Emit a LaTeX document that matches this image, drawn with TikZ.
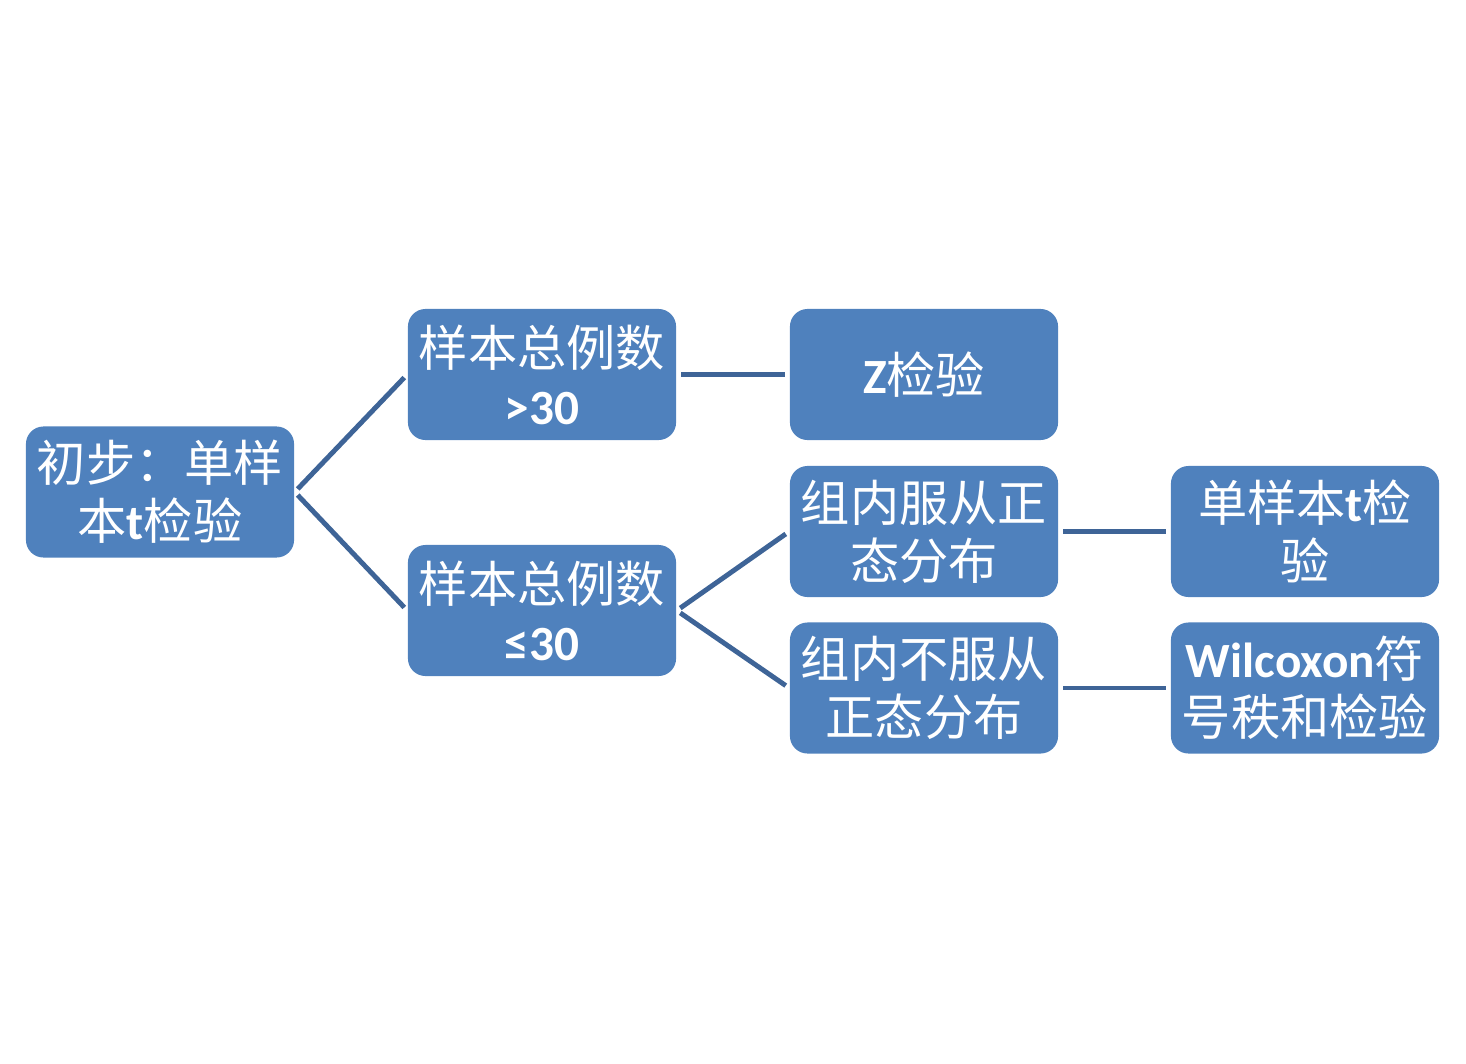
\documentclass[tikz,border=0pt]{standalone}
\usepackage{fontspec}
\setmainfont{Noto Sans CJK SC}
\newfontfamily\latfont{Carlito}
\newcommand{\lat}[1]{{\latfont\bfseries #1}}
\begin{document}
\begin{tikzpicture}[x=0.01cm,y=-0.01cm,
  box/.style={draw=none,fill=boxblue,rounded corners=5pt,minimum width=2.68cm,
    minimum height=1.31cm,inner sep=1pt,text=white,align=center,
    font=\fontsize{14pt}{16.5pt}\selectfont},
  link/.style={draw=lineblue,line width=1.4pt,shorten >=1.2pt,shorten <=1.2pt}]
\definecolor{boxblue}{HTML}{4F81BD}
\definecolor{lineblue}{HTML}{3E6497}
\useasboundingbox (0,0) rectangle (1466,1063);

% boxes
\node[box] (root) at (160,492) {初步：单样\\本\lat{t}检验};
\node[box] (big) at (542,374.5) {样本总例数\\\lat{>30}};
\node[box] (small) at (542,610.5) {样本总例数\\\lat{≤30}};
\node[box] (z) at (924,374.5) {\lat{Z}检验};
\node[box] (norm) at (924,531.5) {组内服从正\\态分布};
\node[box] (nonnorm) at (924,688) {组内不服从\\正态分布};
\node[box] (ttest) at (1305,531.5) {单样本\lat{t}检\\验};
\node[box] (wilc) at (1305,688) {\lat{Wilcoxon}符\\号秩和检验};

% links
\draw[link] (root.east) -- (big.west);
\draw[link] (root.east) -- (small.west);
\draw[link] (big.east) -- (z.west);
\draw[link] (small.east) -- (norm.west);
\draw[link] (small.east) -- (nonnorm.west);
\draw[link] (norm.east) -- (ttest.west);
\draw[link] (nonnorm.east) -- (wilc.west);
\end{tikzpicture}
\end{document}
